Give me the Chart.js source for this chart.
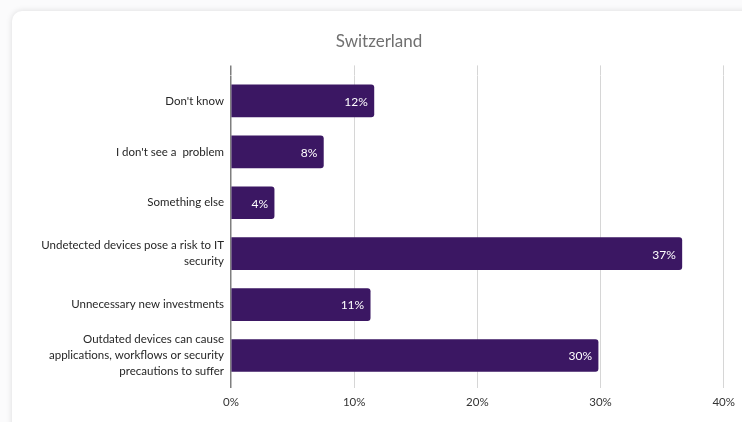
<!DOCTYPE html>
<html>
<head>
<meta charset="utf-8">
<script src="https://cdn.jsdelivr.net/npm/chart.js@4.4.1/dist/chart.umd.min.js"></script>
<style>
  html, body { margin: 0; padding: 0; background: #fbfbfc; }
  .card {
    position: absolute; left: 12px; top: 11px; width: 800px; height: 480px;
    background: #fff; border-radius: 10px;
    box-shadow: 0 0 6px rgba(0, 0, 0, 0.13);
  }
  .wrap { position: absolute; left: 0; top: 0; width: 742px; height: 422px; }
</style>
</head>
<body>
<div class="card"></div>
<div class="wrap"><canvas id="myChart" width="742" height="422"></canvas></div>
<script>
const categories = [
    "Don't know",
    "I don't see a  problem",
    "Something else",
    ["Undetected devices pose a risk to IT", "security"],
    "Unnecessary new investments",
    ["Outdated devices can cause", "applications, workflows or security", "precautions to suffer"]
];
const shares = [11.6, 7.5, 3.5, 36.6, 11.3, 29.8];
const shareLabels = ['12%', '8%', '4%', '37%', '11%', '30%'];
const xTicks = [0, 10, 20, 30, 40];

const barColor = '#3b1763';
const font = 'Lato, "Open Sans", sans-serif';

// white value labels at the end of each bar
const valueLabels = {
    id: 'valueLabels',
    afterDatasetsDraw(chart) {
        const ctx = chart.ctx;
        const meta = chart.getDatasetMeta(0);
        ctx.save();
        ctx.fillStyle = '#ffffff';
        ctx.font = '12px ' + font;
        ctx.textAlign = 'right';
        ctx.textBaseline = 'middle';
        meta.data.forEach((bar, i) => {
            ctx.fillText(shareLabels[i], bar.x - 6, bar.y + 1);
        });
        ctx.restore();
    }
};

const ctx = document.getElementById('myChart').getContext('2d');
new Chart(ctx, {
    type: 'bar',
    data: {
        labels: categories,
        datasets: [{
            data: shares,
            backgroundColor: barColor,
            borderRadius: 3,
            borderSkipped: 'start',
            barThickness: 32
        }]
    },
    options: {
        indexAxis: 'y',
        responsive: false,
        animation: false,
        layout: { padding: { top: 0, right: 16, bottom: 0, left: 32 } },
        plugins: {
            legend: { display: false },
            tooltip: { enabled: false },
            title: {
                display: true,
                text: 'Switzerland',
                color: '#707070',
                font: { family: font, size: 17, weight: 'normal' },
                padding: { top: 31, bottom: 14 }
            }
        },
        scales: {
            x: {
                min: 0, max: 40,
                afterBuildTicks: s => { s.ticks = xTicks.map(v => ({ value: v })); },
                afterFit: s => { s.height = 41; },
                border: { display: false },
                grid: {
                    color: c => c.tick && c.tick.value === 0 ? '#7f7f7f' : '#d6d6d6',
                    lineWidth: c => c.tick && c.tick.value === 0 ? 1.5 : 1,
                    tickLength: 7
                },
                ticks: {
                    color: '#333',
                    padding: 7,
                    font: { family: font, size: 11.5 },
                    callback: v => v + '%'
                }
            },
            x2: {
                position: 'top',
                min: 0, max: 40,
                afterBuildTicks: s => { s.ticks = xTicks.map(v => ({ value: v })); },
                border: { display: false },
                grid: {
                    drawOnChartArea: false,
                    color: c => c.tick && c.tick.value === 0 ? '#7f7f7f' : '#d6d6d6',
                    lineWidth: c => c.tick && c.tick.value === 0 ? 1.5 : 1,
                    tickLength: 10
                },
                ticks: { display: false }
            },
            y: {
                afterFit: s => { s.width = 199; },
                border: { display: false },
                grid: { display: false, drawTicks: false },
                ticks: {
                    autoSkip: false,
                    color: '#262626',
                    padding: 7,
                    font: { family: font, size: 11.5, lineHeight: 1.4 }
                }
            }
        }
    },
    plugins: [valueLabels]
});
</script>
</body>
</html>
